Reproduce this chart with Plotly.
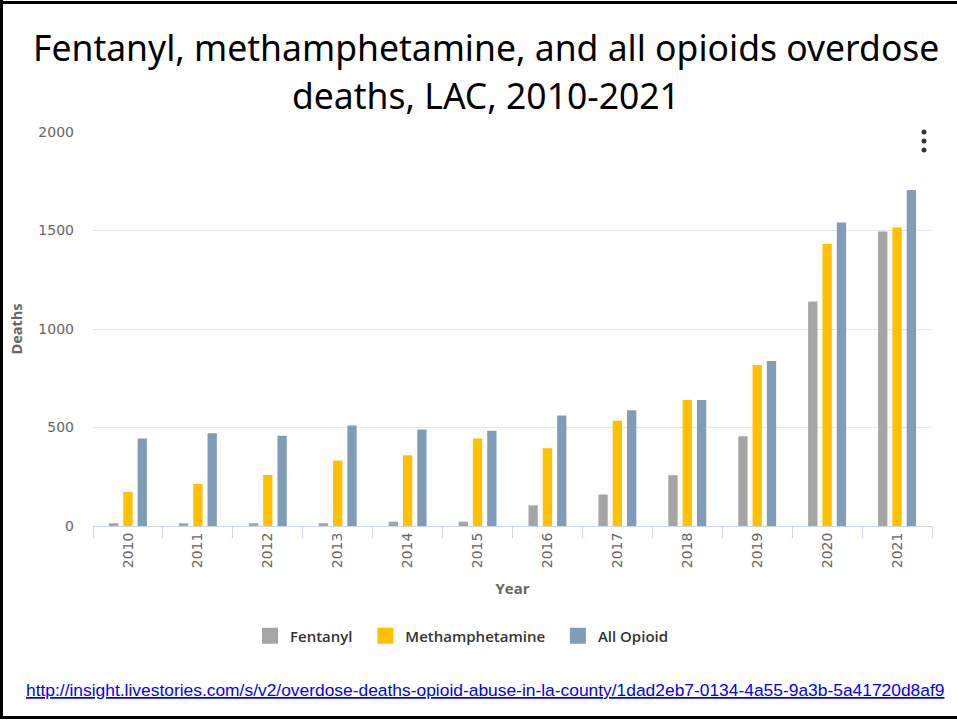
import plotly.graph_objects as go

years = ["2010", "2011", "2012", "2013", "2014", "2015", "2016", "2017", "2018", "2019", "2020", "2021"]
fentanyl = [14, 14, 14, 14, 22, 22, 105, 160, 258, 456, 1139, 1495]
methamphetamine = [173, 213, 259, 332, 359, 444, 395, 534, 639, 817, 1431, 1515]
all_opioid = [444, 471, 458, 510, 490, 483, 561, 587, 639, 837, 1540, 1705]
y_ticks = [0, 500, 1000, 1500, 2000]
series_names = ["Fentanyl", "Methamphetamine", "All Opioid"]
series_colors = ["#a5a5a5", "#ffc000", "#7f9db9"]

W, H = 957, 722
ML, MR, MT, MB = 93, 25, 132, 196
PW = W - ML - MR
PH = H - MT - MB


def px(x):
    return (x - ML) / PW


def py(y):
    return (H - MB - y) / PH


fig = go.Figure()
for name, vals, col in zip(series_names, [fentanyl, methamphetamine, all_opioid], series_colors):
    fig.add_trace(go.Bar(name=name, x=years, y=vals, marker_color=col,
                         marker_line_width=0, showlegend=False, legendgroup=name))
# legend entries (square symbols); trailing no-break spaces widen the gap between entries
for name, col in zip(series_names, series_colors):
    fig.add_trace(go.Scatter(name=name + "\u00a0\u00a0", x=[None], y=[None], mode="markers",
                             marker=dict(symbol="square", size=16, color=col),
                             showlegend=True, legendgroup=name))

fig.update_layout(
    width=W, height=H,
    margin=dict(l=ML, r=MR, t=MT, b=MB, autoexpand=False),
    paper_bgcolor="white", plot_bgcolor="white",
    barmode="group", bargap=0.386, bargroupgap=0.35,
    font=dict(family="DejaVu Sans, sans-serif", color="#666666", size=14),
    showlegend=True,
    legend=dict(orientation="h", x=px(250), xanchor="left", y=py(636), yanchor="middle",
                font=dict(size=15, color="#333333", family="Open Sans, sans-serif", weight=600),
                itemsizing="trace", traceorder="normal"),
    xaxis=dict(type="category", showline=True, linecolor="#ccd6eb", linewidth=1,
               ticks="outside", tickson="boundaries", ticklen=11, tickcolor="#ccd6eb",
               tickangle=-90, tickfont=dict(size=14, color="#666666", family="DejaVu Sans, sans-serif"),
               showgrid=False,
               title=dict(text="<b>Year</b>", font=dict(size=15, color="#666666", family="Open Sans, sans-serif"),
                          standoff=16)),
    yaxis=dict(range=[0, 2000], tickvals=y_ticks, showgrid=True, gridcolor="#e6e6e6",
               zeroline=False, showline=False, ticklabelstandoff=18,
               tickfont=dict(size=14, color="#666666", family="DejaVu Sans, sans-serif"),
               title=dict(text="<b>Deaths</b>", font=dict(size=14.5, color="#666666", family="Open Sans, sans-serif"),
                          standoff=12)),
)

# Title lines
title_font = dict(family="Noto Sans, sans-serif", size=35.5, color="black")
fig.add_annotation(text="Fentanyl, methamphetamine, and all opioids overdose",
                   xref="paper", yref="paper", x=px(486), y=py(47), xanchor="center", yanchor="middle",
                   showarrow=False, font=title_font)
fig.add_annotation(text="deaths, LAC, 2010-2021",
                   xref="paper", yref="paper", x=px(486), y=py(95), xanchor="center", yanchor="middle",
                   showarrow=False, font=title_font)

# Source link
fig.add_annotation(
    text='<span style="text-decoration:underline">http://insight.livestories.com/s/v2/overdose-deaths-opioid-abuse-in-la-county/1dad2eb7-0134-4a55-9a3b-5a41720d8af9</span>',
    xref="paper", yref="paper", x=px(485), y=py(690), xanchor="center", yanchor="middle",
    showarrow=False, font=dict(family="Liberation Sans, Arial, sans-serif", size=17.4, color="#0000ff"))

# Menu dots
for cy in (132, 141, 150):
    fig.add_shape(type="circle", xref="paper", yref="paper",
                  x0=px(921.5), x1=px(926.5), y0=py(cy + 2.5), y1=py(cy - 2.5),
                  fillcolor="#333333", line=dict(width=0), layer="above")

# Slide border (left, top, bottom)
fig.add_shape(type="line", xref="paper", yref="paper", x0=px(1.5), x1=px(1.5), y0=py(0), y1=py(718),
              line=dict(color="black", width=3))
fig.add_shape(type="line", xref="paper", yref="paper", x0=px(0), x1=px(957), y0=py(2.5), y1=py(2.5),
              line=dict(color="black", width=3))
fig.add_shape(type="line", xref="paper", yref="paper", x0=px(0), x1=px(957), y0=py(717.5), y1=py(717.5),
              line=dict(color="black", width=3))

fig.write_html("out.html", config={"displayModeBar": False},
               post_script="document.body.style.margin='0';document.body.style.overflow='hidden';")
